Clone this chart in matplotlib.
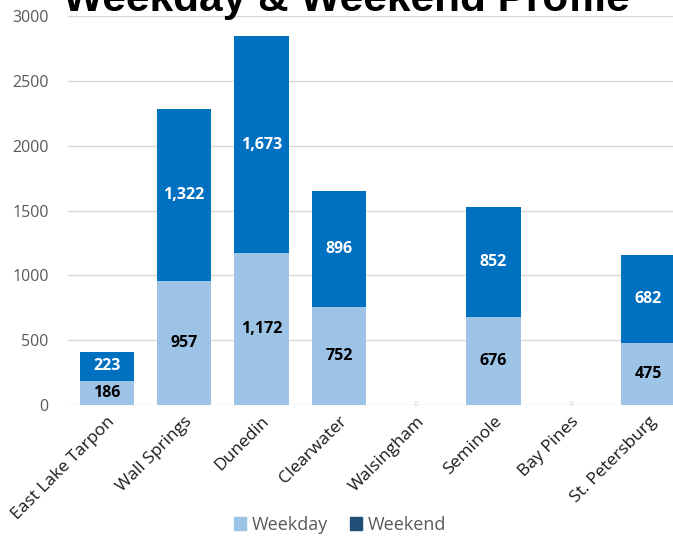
import numpy as np
import matplotlib.pyplot as plt
from matplotlib.patches import Patch

# 데이터
categories = ['East Lake Tarpon', 'Wall Springs', 'Dunedin', 'Clearwater',
              'Walsingham', 'Seminole', 'Bay Pines', 'St. Petersburg']
weekday = [186, 957, 1172, 752, 0, 676, 0, 475]
weekend = [223, 1322, 1673, 896, 0, 852, 0, 682]
y_ticks = [0, 500, 1000, 1500, 2000, 2500, 3000]

c_weekday = '#9DC3E6'
c_weekend = '#0070C0'
c_weekend_legend = '#1F4E79'

plt.rcParams['font.family'] = ['Open Sans', 'DejaVu Sans']

fig = plt.figure(figsize=(6.73, 5.37), dpi=100)
ax = fig.add_axes([68 / 673, 1 - 405 / 537, 619 / 673, 389 / 537])

x = np.arange(len(categories))
ax.bar(x, weekday, width=0.7, color=c_weekday, zorder=3)
ax.bar(x, weekend, width=0.7, bottom=weekday, color=c_weekend, zorder=3)

# 데이터 레이블
for i in range(len(categories)):
    if weekday[i] == 0 and weekend[i] == 0:
        ax.text(x[i], 0, '0', ha='center', va='center', fontsize=6,
                color='#d0d0d0', zorder=4)
        continue
    ax.text(x[i], weekday[i] / 2, f'{weekday[i]:,}', ha='center', va='center',
            fontsize=11.5, fontweight='bold', color='black', zorder=4)
    ax.text(x[i], weekday[i] + weekend[i] / 2, f'{weekend[i]:,}', ha='center',
            va='center', fontsize=11.5, fontweight='bold', color='white', zorder=4)

ax.set_xlim(-0.5, 7.5)
ax.set_ylim(0, 3000)
ax.set_yticks(y_ticks)
ax.set_yticklabels([str(t) for t in y_ticks], color='#595959', fontsize=11.5)
ax.set_xticks(x)
ax.set_xticklabels(categories, rotation=45, ha='right', rotation_mode='anchor',
                   fontsize=12.5, color='#1a1a1a')
ax.tick_params(axis='y', length=0, pad=14)
ax.tick_params(axis='x', length=0, pad=6)
ax.grid(axis='y', color='#D9D9D9', linewidth=1, zorder=0)
for s in ax.spines.values():
    s.set_visible(False)

fig.text(0.515, 1 - 11 / 537, 'Weekday & Weekend Profile', ha='center',
         va='baseline', fontsize=30.5, fontweight='bold', family='Liberation Sans')

handles = [Patch(color=c_weekday, label='Weekday'),
           Patch(color=c_weekend_legend, label='Weekend')]
fig.legend(handles=handles, loc='center', bbox_to_anchor=(0.505, 1 - 525 / 537),
           ncol=2, frameon=False, fontsize=13, labelcolor='#595959',
           handlelength=0.7, handleheight=0.7, handletextpad=0.3, columnspacing=1.2)

fig.savefig('out.png', dpi=100)
